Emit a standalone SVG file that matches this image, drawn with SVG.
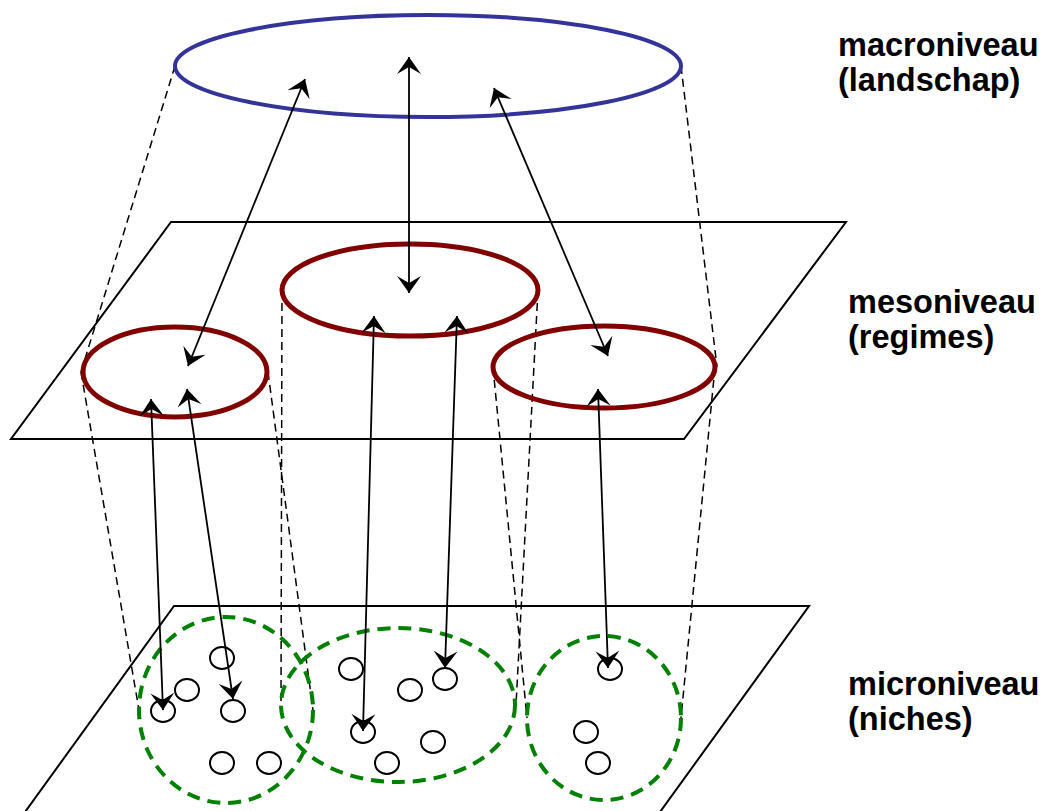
<svg xmlns="http://www.w3.org/2000/svg" width="1048" height="811" viewBox="0 0 1048 811">
  <style>
    .plane { fill: none; stroke: #000; stroke-width: 2; stroke-linejoin: miter; }
    .guide { fill: none; stroke: #000; stroke-width: 1.5; stroke-dasharray: 8 5; }
    .macro { fill: none; stroke: #333399; stroke-width: 4; }
    .meso { fill: none; stroke: #800000; stroke-width: 5; }
    .niche { fill: none; stroke: #008000; stroke-width: 4; stroke-dasharray: 13 8; }
    .dot { fill: none; stroke: #000; stroke-width: 2; }
    .link { fill: none; stroke: #000; stroke-width: 1.8; marker-start: url(#head); marker-end: url(#head); }
    .label { font-family: "Liberation Sans", Arial, sans-serif; font-weight: bold; font-size: 32.5px; fill: #000; }
  </style>
  <defs>
    <marker id="head" viewBox="-18 -13 19 26" refX="0" refY="0" markerWidth="19" markerHeight="26" markerUnits="userSpaceOnUse" orient="auto-start-reverse">
      <path d="M0,0 L-17,-12 L-10,0 L-17,12 Z" fill="#000"/>
    </marker>
  </defs>

  <!-- level planes -->
  <g id="plane-meso">
    <polygon class="plane" points="171,222 846,222 684,439 11,439"/>
  </g>
  <g id="plane-micro">
    <polyline class="plane" points="12,830 174,606 809,606 647,830"/>
  </g>

  <!-- projection guides between levels -->
  <g id="guides">
    <line class="guide" x1="175" y1="66" x2="81" y2="372"/>
    <line class="guide" x1="681" y1="66" x2="717" y2="367"/>
    <line class="guide" x1="81" y1="372" x2="139" y2="710"/>
    <line class="guide" x1="268" y1="372" x2="313" y2="710"/>
    <line class="guide" x1="282" y1="290" x2="281" y2="705"/>
    <line class="guide" x1="538" y1="290" x2="516" y2="705"/>
    <line class="guide" x1="493" y1="367" x2="527" y2="718"/>
    <line class="guide" x1="715" y1="367" x2="681" y2="718"/>
  </g>

  <!-- niches -->
  <g id="niche-left">
    <ellipse class="niche" cx="226" cy="710" rx="87" ry="93"/>
    <ellipse class="dot" cx="222" cy="658" rx="12" ry="11"/>
    <ellipse class="dot" cx="187" cy="690" rx="12" ry="11"/>
    <ellipse class="dot" cx="163" cy="711" rx="12" ry="11"/>
    <ellipse class="dot" cx="233" cy="711" rx="12" ry="11"/>
    <ellipse class="dot" cx="222" cy="763" rx="12" ry="11"/>
    <ellipse class="dot" cx="269" cy="763" rx="12" ry="11"/>
  </g>
  <g id="niche-middle">
    <ellipse class="niche" cx="398" cy="705" rx="117" ry="77"/>
    <ellipse class="dot" cx="351" cy="669" rx="12" ry="11"/>
    <ellipse class="dot" cx="410" cy="690" rx="12" ry="11"/>
    <ellipse class="dot" cx="445" cy="679" rx="12" ry="11"/>
    <ellipse class="dot" cx="363" cy="732" rx="12" ry="11"/>
    <ellipse class="dot" cx="433" cy="742" rx="12" ry="11"/>
    <ellipse class="dot" cx="387" cy="763" rx="12" ry="11"/>
  </g>
  <g id="niche-right">
    <ellipse class="niche" cx="604" cy="718" rx="77" ry="82"/>
    <ellipse class="dot" cx="610" cy="669" rx="12" ry="11"/>
    <ellipse class="dot" cx="586" cy="732" rx="12" ry="11"/>
    <ellipse class="dot" cx="598" cy="763" rx="12" ry="11"/>
  </g>

  <!-- regimes -->
  <g id="regime-left">
    <ellipse class="meso" cx="175" cy="372" rx="92" ry="45"/>
  </g>
  <g id="regime-middle">
    <ellipse class="meso" cx="410" cy="290" rx="128" ry="46"/>
  </g>
  <g id="regime-right">
    <ellipse class="meso" cx="604" cy="367" rx="111" ry="41"/>
  </g>

  <!-- landscape -->
  <g id="landscape">
    <ellipse class="macro" cx="428" cy="66" rx="253" ry="51"/>
  </g>

  <!-- interactions between levels -->
  <g id="connectors">
    <line class="link" x1="305" y1="79" x2="188" y2="366"/>
    <line class="link" x1="409" y1="57" x2="409" y2="293"/>
    <line class="link" x1="494" y1="88" x2="608" y2="356"/>
    <line class="link" x1="151" y1="399" x2="163" y2="710"/>
    <line class="link" x1="187" y1="389" x2="233" y2="699"/>
    <line class="link" x1="374" y1="316" x2="363" y2="731"/>
    <line class="link" x1="457" y1="316" x2="445" y2="668"/>
    <line class="link" x1="598" y1="389" x2="608" y2="668"/>
  </g>

  <!-- level labels -->
  <g id="label-macro">
    <text class="label" x="838" y="56">macroniveau</text>
    <text class="label" x="838" y="91">(landschap)</text>
  </g>
  <g id="label-meso">
    <text class="label" x="848" y="313">mesoniveau</text>
    <text class="label" x="848" y="348">(regimes)</text>
  </g>
  <g id="label-micro">
    <text class="label" x="848" y="695">microniveau</text>
    <text class="label" x="848" y="730">(niches)</text>
  </g>
</svg>
